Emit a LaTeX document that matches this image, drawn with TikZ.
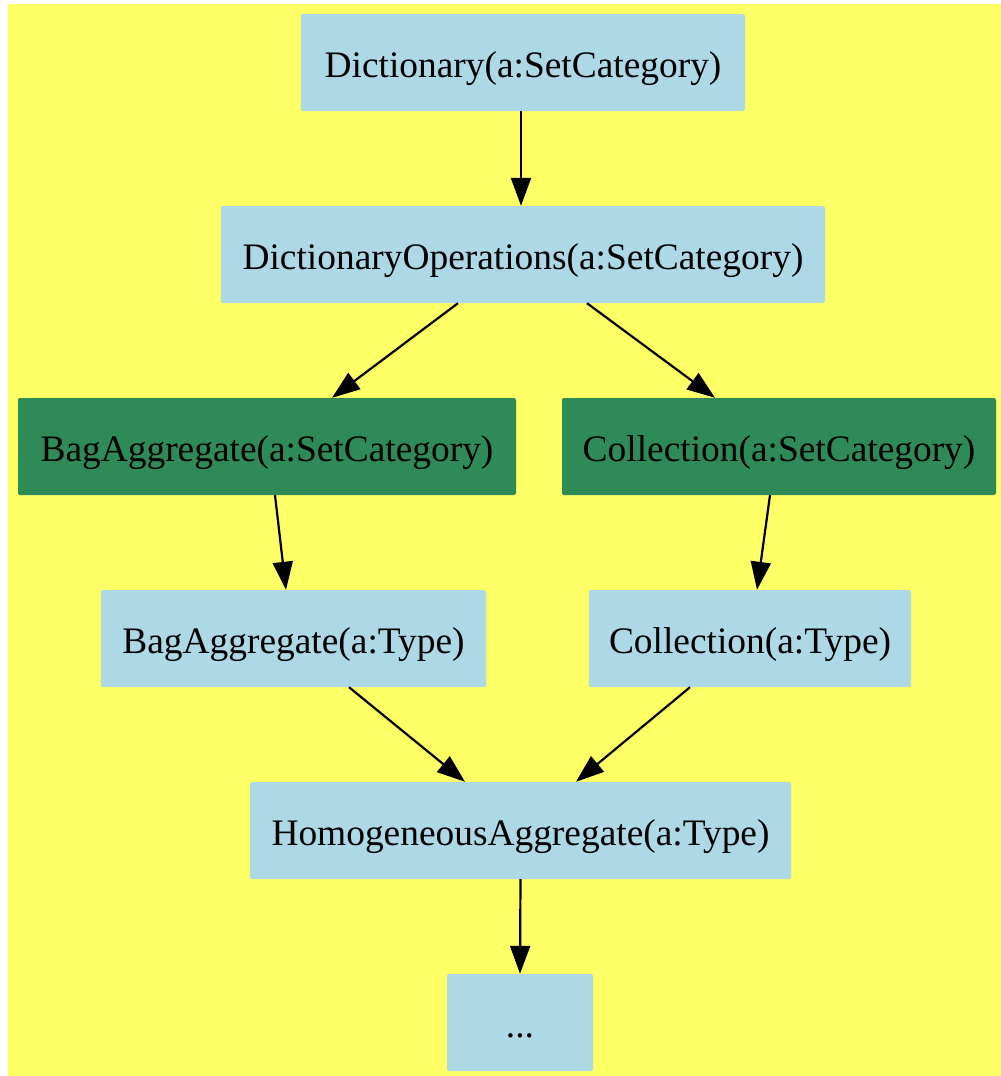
\documentclass[tikz,border=0pt]{standalone}
\usepackage{fontspec}
\setmainfont{Liberation Serif}
\usetikzlibrary{arrows.meta}
\definecolor{bgyellow}{HTML}{FFFF66}
\definecolor{lblue}{HTML}{ADD8E6}
\definecolor{sgreen}{HTML}{2E8B57}
\newcommand{\lbl}[1]{\raisebox{0pt}[29pt][0pt]{#1}}
\tikzset{
  box/.style={rectangle, rounded corners=2pt, inner sep=0pt, minimum height=97pt, font=\fontsize{37.4}{44}\selectfont, text=black},
  bluebox/.style={box, fill=lblue},
  greenbox/.style={box, fill=sgreen},
  edge/.style={line width=2.2pt, -{Triangle[length=28pt,width=20pt]}},
}
\begin{document}
\begin{tikzpicture}[x=1pt,y=-1pt]
\useasboundingbox (0,0) rectangle (1001,1076);
\fill[white] (0,0) rectangle (1001,1076);
\fill[bgyellow] (8,4) rectangle (1001,1076);
\node[bluebox, minimum width=444pt] (dict) at (523,62.5) {\lbl{Dictionary(a:SetCategory)}};
\node[bluebox, minimum width=604pt] (dop) at (523,254.5) {\lbl{DictionaryOperations(a:SetCategory)}};
\node[greenbox, minimum width=498pt] (bag1) at (267,446.5) {\lbl{BagAggregate(a:SetCategory)}};
\node[greenbox, minimum width=434pt] (col1) at (779,446.5) {\lbl{Collection(a:SetCategory)}};
\node[bluebox, minimum width=385pt] (bagt) at (293.5,638.5) {\lbl{BagAggregate(a:Type)}};
\node[bluebox, minimum width=322pt] (colt) at (750,638.5) {\lbl{Collection(a:Type)}};
\node[bluebox, minimum width=541pt] (hom) at (520.5,830.5) {\lbl{HomogeneousAggregate(a:Type)}};
\node[bluebox, minimum width=146pt] (dots) at (520,1022.5) {\lbl{...}};
\draw[edge] ([xshift=-2pt]dict.south) -- ([xshift=-2pt]dop.north);
\draw[edge] ([xshift=-65pt]dop.south) -- ([xshift=65pt]bag1.north);
\draw[edge] ([xshift=64pt]dop.south) -- ([xshift=-64pt]col1.north);
\draw[edge] ([xshift=8pt]bag1.south) -- ([xshift=-7.5pt]bagt.north);
\draw[edge] ([xshift=-9pt]col1.south) -- ([xshift=7pt]colt.north);
\draw[edge] ([xshift=55.5pt]bagt.south) -- ([xshift=-55.5pt]hom.north);
\draw[edge] ([xshift=-60pt]colt.south) -- ([xshift=55.5pt]hom.north);
\draw[edge] (hom.south) -- (dots.north);
\end{tikzpicture}
\end{document}
